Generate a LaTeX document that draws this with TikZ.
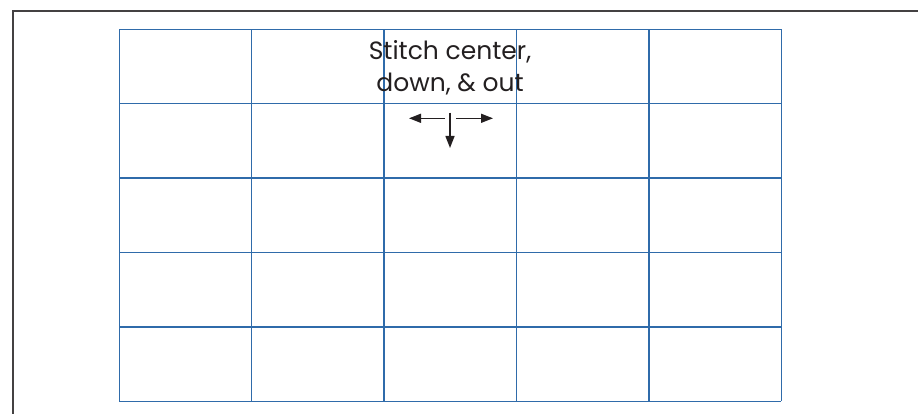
\documentclass[tikz,border=0pt]{standalone}
\usepackage{fontspec}
\usepackage{xcolor}
\usetikzlibrary{arrows.meta,calc}
\newfontfamily\labelfont{Poppins}[Scale=1.0]
\definecolor{gridblue}{HTML}{2F6BAA}
\definecolor{inkgray}{HTML}{231F20}

\begin{document}
\begin{tikzpicture}[x=1pt, y=-1pt, >={Triangle[length=12pt,width=9pt]}]
\useasboundingbox (0,0) rectangle (918,414);

% frame
\draw[line width=2.2pt, inkgray!85] (13,414) -- (13,10.8) -- (918,10.8);

% grid 5 x 5
\foreach \i in {0,...,5}
  \draw[gridblue, line width=1.4pt] (119.3+132.4*\i,29.3) -- (119.3+132.4*\i,401.3);
\foreach \j in {0,...,5}
  \draw[gridblue, line width=1.4pt] (119.3,29.3+74.4*\j) -- (781.3,29.3+74.4*\j);

% label
\node[inkgray, font=\labelfont\fontsize{25}{31}\selectfont, anchor=base] (top) at (450,60) {Stitch center,};
\node[inkgray, font=\labelfont\fontsize{25}{31}\selectfont, anchor=base] (bot) at (450,91.7) {down, \& out};

% arrows: center, down, out
\coordinate (c) at (450,112.7);
\coordinate (cl) at (445,118.3);
\coordinate (cr) at (456,118.3);
\coordinate (l) at (409,118.3);
\coordinate (r) at (493,118.3);
\coordinate (d) at (450,148);
\draw[->, line width=1.4pt, inkgray] (cl) -- (l);
\draw[->, line width=1.4pt, inkgray] (cr) -- (r);
\draw[->, line width=1.4pt, inkgray] (c) -- (d);
\end{tikzpicture}
\end{document}
